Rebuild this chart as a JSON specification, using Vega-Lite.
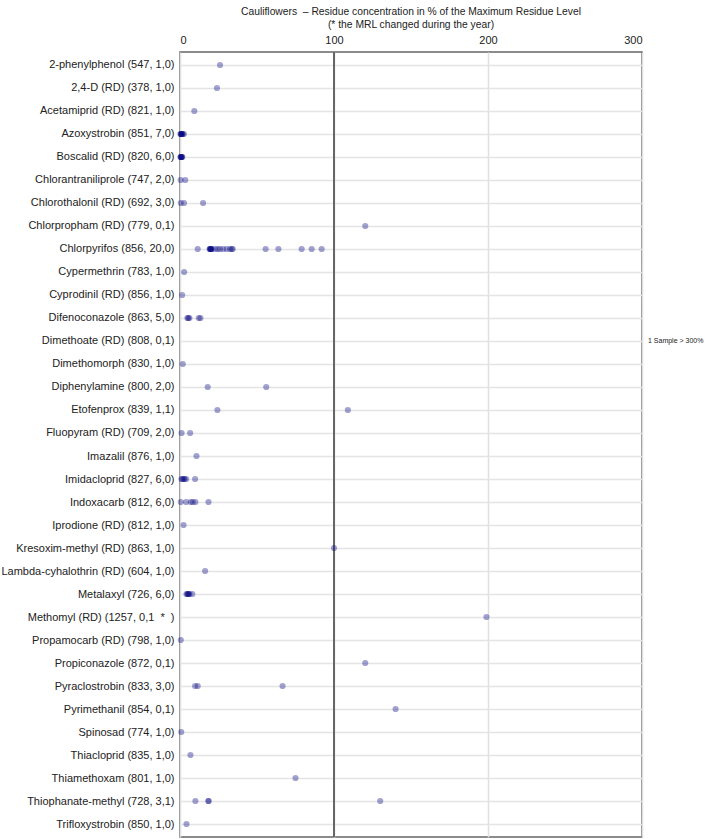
{
  "$schema": "https://vega.github.io/schema/vega-lite/v6.json",
  "autosize": {"type": "none"},
  "padding": {"left": 180, "top": 52, "right": 67, "bottom": 2},
  "width": 462,
  "height": 785,
  "background": "white",
  "config": {
    "font": "Liberation Sans",
    "view": {"stroke": "#666666", "strokeWidth": 1.5}
  },
  "title": {
    "text": ["Cauliflowers \u00a0– Residue concentration in % of the Maximum Residue Level", "(* the MRL changed during the year)"],
    "fontSize": 10.3,
    "fontWeight": "normal",
    "font": "Liberation Sans",
    "color": "#222222",
    "lineHeight": 13,
    "offset": 4,
    "anchor": "middle"
  },
  "data": {
    "values": [
      {"s": "2-phenylphenol (547, 1,0)", "v": 26},
      {"s": "2,4-D (RD) (378, 1,0)", "v": 24},
      {"s": "Acetamiprid (RD) (821, 1,0)", "v": 9.3},
      {"s": "Azoxystrobin (851, 7,0)", "v": 0.3},
      {"s": "Azoxystrobin (851, 7,0)", "v": 0.5},
      {"s": "Azoxystrobin (851, 7,0)", "v": 0.8},
      {"s": "Azoxystrobin (851, 7,0)", "v": 1.0},
      {"s": "Azoxystrobin (851, 7,0)", "v": 1.3},
      {"s": "Azoxystrobin (851, 7,0)", "v": 1.8},
      {"s": "Azoxystrobin (851, 7,0)", "v": 2.5},
      {"s": "Boscalid (RD) (820, 6,0)", "v": 0.3},
      {"s": "Boscalid (RD) (820, 6,0)", "v": 0.5},
      {"s": "Boscalid (RD) (820, 6,0)", "v": 0.7},
      {"s": "Boscalid (RD) (820, 6,0)", "v": 0.9},
      {"s": "Boscalid (RD) (820, 6,0)", "v": 1.2},
      {"s": "Boscalid (RD) (820, 6,0)", "v": 1.5},
      {"s": "Chlorantraniliprole (747, 2,0)", "v": 0.4},
      {"s": "Chlorantraniliprole (747, 2,0)", "v": 3.4},
      {"s": "Chlorothalonil (RD) (692, 3,0)", "v": 0.5},
      {"s": "Chlorothalonil (RD) (692, 3,0)", "v": 2.6},
      {"s": "Chlorothalonil (RD) (692, 3,0)", "v": 15},
      {"s": "Chlorpropham (RD) (779, 0,1)", "v": 120.3},
      {"s": "Chlorpyrifos (856, 20,0)", "v": 11.5},
      {"s": "Chlorpyrifos (856, 20,0)", "v": 19.2},
      {"s": "Chlorpyrifos (856, 20,0)", "v": 19.5},
      {"s": "Chlorpyrifos (856, 20,0)", "v": 19.8},
      {"s": "Chlorpyrifos (856, 20,0)", "v": 20.0},
      {"s": "Chlorpyrifos (856, 20,0)", "v": 20.3},
      {"s": "Chlorpyrifos (856, 20,0)", "v": 20.6},
      {"s": "Chlorpyrifos (856, 20,0)", "v": 22.7},
      {"s": "Chlorpyrifos (856, 20,0)", "v": 24.5},
      {"s": "Chlorpyrifos (856, 20,0)", "v": 26},
      {"s": "Chlorpyrifos (856, 20,0)", "v": 28.1},
      {"s": "Chlorpyrifos (856, 20,0)", "v": 30.3},
      {"s": "Chlorpyrifos (856, 20,0)", "v": 32.5},
      {"s": "Chlorpyrifos (856, 20,0)", "v": 33.6},
      {"s": "Chlorpyrifos (856, 20,0)", "v": 34.2},
      {"s": "Chlorpyrifos (856, 20,0)", "v": 55.6},
      {"s": "Chlorpyrifos (856, 20,0)", "v": 63.9},
      {"s": "Chlorpyrifos (856, 20,0)", "v": 79},
      {"s": "Chlorpyrifos (856, 20,0)", "v": 85.5},
      {"s": "Chlorpyrifos (856, 20,0)", "v": 92},
      {"s": "Cypermethrin (783, 1,0)", "v": 2.7},
      {"s": "Cyprodinil (RD) (856, 1,0)", "v": 1.4},
      {"s": "Difenoconazole (863, 5,0)", "v": 4.8},
      {"s": "Difenoconazole (863, 5,0)", "v": 5.4},
      {"s": "Difenoconazole (863, 5,0)", "v": 6.1},
      {"s": "Difenoconazole (863, 5,0)", "v": 12.2},
      {"s": "Difenoconazole (863, 5,0)", "v": 13.3},
      {"s": "Dimethomorph (830, 1,0)", "v": 1.8},
      {"s": "Diphenylamine (800, 2,0)", "v": 18},
      {"s": "Diphenylamine (800, 2,0)", "v": 56},
      {"s": "Etofenprox (839, 1,1)", "v": 24.3},
      {"s": "Etofenprox (839, 1,1)", "v": 109},
      {"s": "Fluopyram (RD) (709, 2,0)", "v": 1.0},
      {"s": "Fluopyram (RD) (709, 2,0)", "v": 6.6},
      {"s": "Imazalil (876, 1,0)", "v": 10.7},
      {"s": "Imidacloprid (827, 6,0)", "v": 0.9},
      {"s": "Imidacloprid (827, 6,0)", "v": 1.6},
      {"s": "Imidacloprid (827, 6,0)", "v": 2.3},
      {"s": "Imidacloprid (827, 6,0)", "v": 3.0},
      {"s": "Imidacloprid (827, 6,0)", "v": 4.0},
      {"s": "Imidacloprid (827, 6,0)", "v": 9.8},
      {"s": "Indoxacarb (812, 6,0)", "v": 0.5},
      {"s": "Indoxacarb (812, 6,0)", "v": 4.0},
      {"s": "Indoxacarb (812, 6,0)", "v": 7.0},
      {"s": "Indoxacarb (812, 6,0)", "v": 8.3},
      {"s": "Indoxacarb (812, 6,0)", "v": 10.0},
      {"s": "Indoxacarb (812, 6,0)", "v": 18.5},
      {"s": "Iprodione (RD) (812, 1,0)", "v": 2.3},
      {"s": "Kresoxim-methyl (RD) (863, 1,0)", "v": 100},
      {"s": "Lambda-cyhalothrin (RD) (604, 1,0)", "v": 16.3},
      {"s": "Metalaxyl (726, 6,0)", "v": 4.2},
      {"s": "Metalaxyl (726, 6,0)", "v": 4.8},
      {"s": "Metalaxyl (726, 6,0)", "v": 5.2},
      {"s": "Metalaxyl (726, 6,0)", "v": 5.6},
      {"s": "Metalaxyl (726, 6,0)", "v": 6.2},
      {"s": "Metalaxyl (726, 6,0)", "v": 8.0},
      {"s": "Methomyl (RD) (1257, 0,1 \u00a0*\u00a0 )", "v": 199},
      {"s": "Propamocarb (RD) (798, 1,0)", "v": 0.5},
      {"s": "Propiconazole (872, 0,1)", "v": 120.3},
      {"s": "Pyraclostrobin (833, 3,0)", "v": 9.8},
      {"s": "Pyraclostrobin (833, 3,0)", "v": 11.5},
      {"s": "Pyraclostrobin (833, 3,0)", "v": 66.6},
      {"s": "Pyrimethanil (854, 0,1)", "v": 140},
      {"s": "Spinosad (774, 1,0)", "v": 0.8},
      {"s": "Thiacloprid (835, 1,0)", "v": 6.8},
      {"s": "Thiamethoxam (801, 1,0)", "v": 75},
      {"s": "Thiophanate-methyl (728, 3,1)", "v": 10},
      {"s": "Thiophanate-methyl (728, 3,1)", "v": 18.4},
      {"s": "Thiophanate-methyl (728, 3,1)", "v": 18.6},
      {"s": "Thiophanate-methyl (728, 3,1)", "v": 130},
      {"s": "Trifloxystrobin (850, 1,0)", "v": 4.2}
    ]
  },
  "encoding": {
    "y": {
      "field": "s",
      "type": "nominal",
      "scale": {
        "type": "point",
        "padding": 0.565,
        "domain": [
          "2-phenylphenol (547, 1,0)",
          "2,4-D (RD) (378, 1,0)",
          "Acetamiprid (RD) (821, 1,0)",
          "Azoxystrobin (851, 7,0)",
          "Boscalid (RD) (820, 6,0)",
          "Chlorantraniliprole (747, 2,0)",
          "Chlorothalonil (RD) (692, 3,0)",
          "Chlorpropham (RD) (779, 0,1)",
          "Chlorpyrifos (856, 20,0)",
          "Cypermethrin (783, 1,0)",
          "Cyprodinil (RD) (856, 1,0)",
          "Difenoconazole (863, 5,0)",
          "Dimethoate (RD) (808, 0,1)",
          "Dimethomorph (830, 1,0)",
          "Diphenylamine (800, 2,0)",
          "Etofenprox (839, 1,1)",
          "Fluopyram (RD) (709, 2,0)",
          "Imazalil (876, 1,0)",
          "Imidacloprid (827, 6,0)",
          "Indoxacarb (812, 6,0)",
          "Iprodione (RD) (812, 1,0)",
          "Kresoxim-methyl (RD) (863, 1,0)",
          "Lambda-cyhalothrin (RD) (604, 1,0)",
          "Metalaxyl (726, 6,0)",
          "Methomyl (RD) (1257, 0,1 \u00a0*\u00a0 )",
          "Propamocarb (RD) (798, 1,0)",
          "Propiconazole (872, 0,1)",
          "Pyraclostrobin (833, 3,0)",
          "Pyrimethanil (854, 0,1)",
          "Spinosad (774, 1,0)",
          "Thiacloprid (835, 1,0)",
          "Thiamethoxam (801, 1,0)",
          "Thiophanate-methyl (728, 3,1)",
          "Trifloxystrobin (850, 1,0)"
        ]
      },
      "axis": {
        "title": null,
        "domain": false,
        "ticks": false,
        "grid": true,
        "gridColor": "#e4e4e4",
        "gridWidth": 1.5,
        "labelFontSize": 11,
        "labelColor": "#222222",
        "labelPadding": 6,
        "labelLimit": 300
      }
    }
  },
  "layer": [
    {
      "mark": {"type": "rule", "color": "#666666", "strokeWidth": 2},
      "encoding": {
        "x": {"datum": 100, "type": "quantitative"},
        "y": null
      }
    },
    {
      "mark": {"type": "circle", "size": 38, "color": "#000080", "opacity": 0.36},
      "encoding": {
        "x": {
          "field": "v",
          "type": "quantitative",
          "scale": {"domain": [0, 300], "nice": false},
          "axis": {
            "orient": "top",
            "title": null,
            "values": [0, 100, 200, 300],
            "domain": false,
            "ticks": false,
            "grid": true,
            "gridColor": "#e0e0e0",
            "gridWidth": 1.5,
            "labelFontSize": 11,
            "labelColor": "#222222",
            "labelPadding": 7
          }
        }
      }
    },
    {
      "data": {"values": [{"s": "Dimethoate (RD) (808, 0,1)", "note": "1 Sample > 300%"}]},
      "mark": {"type": "text", "align": "left", "baseline": "middle", "dx": 6, "fontSize": 7, "color": "#222222"},
      "encoding": {
        "x": {"datum": 300, "type": "quantitative"},
        "text": {"field": "note"}
      }
    }
  ]
}
